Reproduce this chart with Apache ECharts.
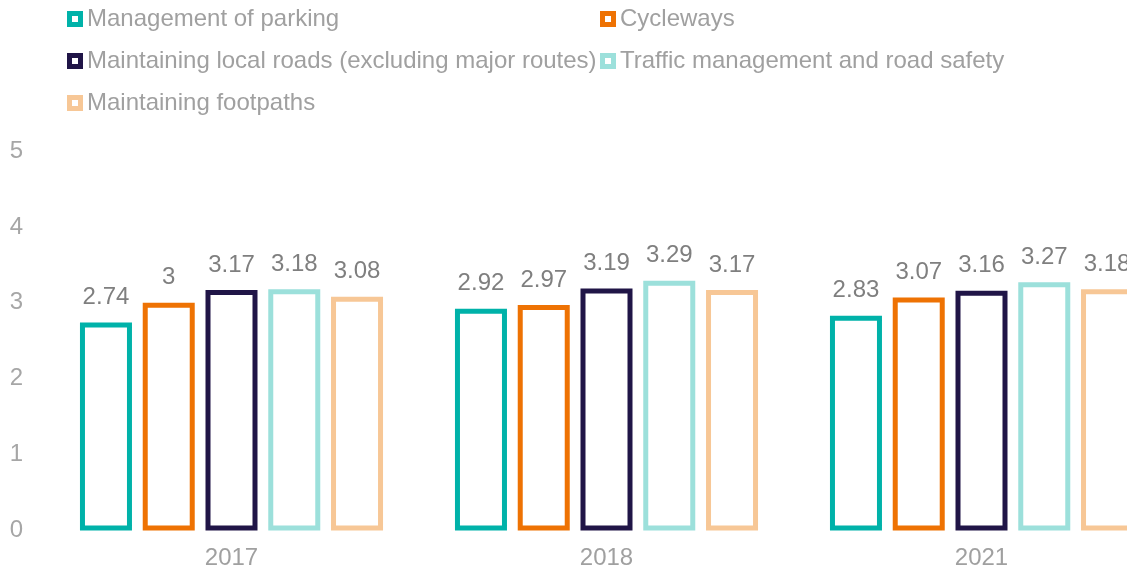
<!DOCTYPE html>
<html><head><meta charset="utf-8">
<script src="https://cdn.jsdelivr.net/npm/echarts@6/dist/echarts.min.js"></script>
<style>html,body{margin:0;padding:0;background:#fff;overflow:hidden;width:1127px;height:572px}#c{width:1170px;height:572px}</style>
</head><body><div id="c"></div>
<script>
const categories = ['2017', '2018', '2021'];
const seriesNames = ['Management of parking', 'Cycleways', 'Maintaining local roads (excluding major routes)', 'Traffic management and road safety', 'Maintaining footpaths'];
const parking = [2.74, 2.92, 2.83];
const cycleways = [3, 2.97, 3.07];
const localRoads = [3.17, 3.19, 3.16];
const traffic = [3.18, 3.29, 3.27];
const footpaths = [3.08, 3.17, 3.18];
const yTicks = [0, 1, 2, 3, 4, 5];

const colors = ['#00B2A9', '#EE7203', '#201547', '#9CE0DB', '#F7C796'];
const values = [parking, cycleways, localRoads, traffic, footpaths];
const font = 'Liberation Sans, Arial, sans-serif';

const legendPos = [[67, 7], [600, 7], [67, 49], [600, 49], [67, 91]];
const legends = seriesNames.map((n, i) => ({
  data: [n], left: legendPos[i][0], top: legendPos[i][1],
  itemWidth: 16, itemHeight: 16, padding: 0,
  icon: 'path://M0,0H16V16H0Z M5,5V11H11V5Z',
  itemStyle: { color: colors[i], borderWidth: 0 },
  textStyle: { color: '#a0a0a0', fontSize: 24, fontFamily: font, padding: [0, 0, 0, -1] },
  selectedMode: false
}));

const series = seriesNames.map((n, i) => ({
  name: n, type: 'bar', data: values[i],
  barWidth: 52, barGap: '20.7%',
  itemStyle: { color: '#fff', borderColor: colors[i], borderWidth: 5 },
  label: { show: true, position: 'top', distance: 13, color: '#7f7f7f', fontSize: 24, fontFamily: font },
  emphasis: { disabled: true }
}));

const chart = echarts.init(document.getElementById('c'), null, { renderer: 'canvas' });
chart.setOption({
  animation: false,
  legend: legends,
  grid: { left: 44, right: 1, top: 151, bottom: 41.5, containLabel: false },
  xAxis: {
    type: 'category', data: categories,
    axisLine: { show: false }, axisTick: { show: false },
    axisLabel: { color: '#a0a0a0', fontSize: 24, fontFamily: font, margin: 16 }
  },
  yAxis: {
    type: 'value', min: yTicks[0], max: yTicks[yTicks.length - 1], interval: 1,
    splitLine: { show: false }, axisLine: { show: false }, axisTick: { show: false },
    axisLabel: { color: '#a6a6a6', fontSize: 24, fontFamily: font, margin: 21 }
  },
  series: series
});
</script></body></html>
